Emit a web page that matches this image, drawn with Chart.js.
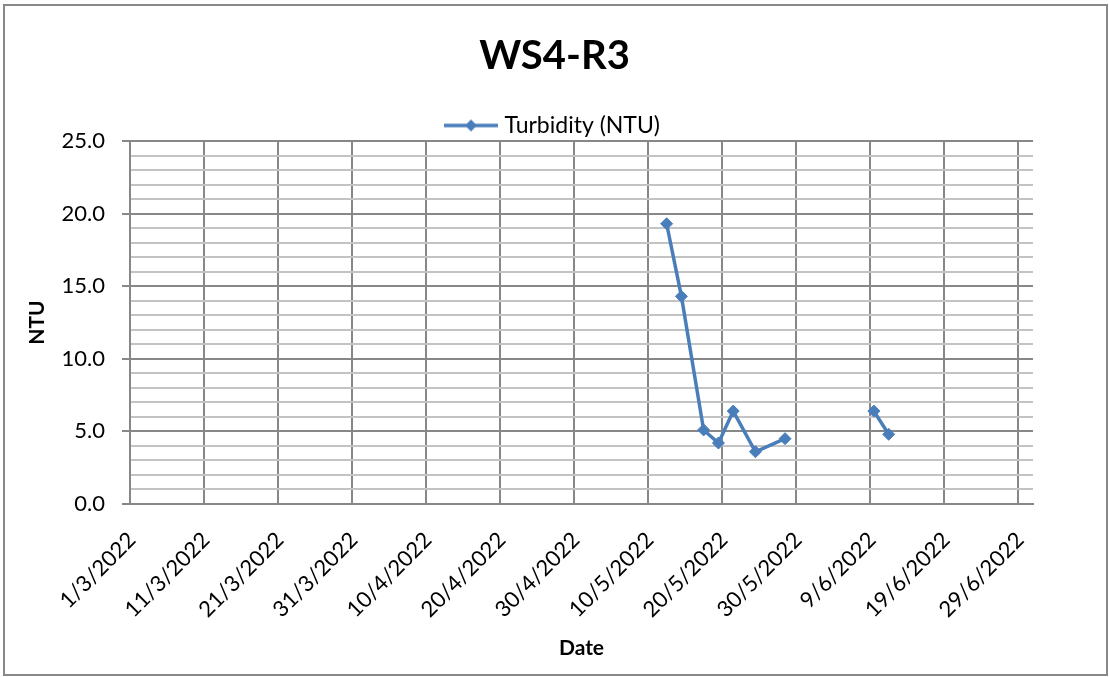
<!DOCTYPE html>
<html>
<head>
<meta charset="utf-8">
<title>WS4-R3</title>
<script src="https://cdn.jsdelivr.net/npm/chart.js@4.4.1/dist/chart.umd.min.js"></script>
<style>
  html, body { margin: 0; padding: 0; background: #ffffff; }
  #wrap { width: 1109px; height: 677px; }
  canvas { display: block; }
</style>
</head>
<body>
<div id="wrap"><canvas id="chart" width="1109" height="677"></canvas></div>
<script>
// ---- data ----
const chartTitle = 'WS4-R3';
const seriesName = 'Turbidity (NTU)';
const axisStart = '1/3/2022';
const axisEnd = '1/7/2022';
const sampleDates = ['12/5/2022', '14/5/2022', '17/5/2022', '19/5/2022', '21/5/2022',
                     '24/5/2022', '28/5/2022', '4/6/2022', '9/6/2022', '11/6/2022'];
const turbidity = [19.3, 14.3, 5.1, 4.2, 6.4, 3.6, 4.5, null, 6.4, 4.8];
const xTickLabels = ['1/3/2022', '11/3/2022', '21/3/2022', '31/3/2022', '10/4/2022',
                     '20/4/2022', '30/4/2022', '10/5/2022', '20/5/2022', '30/5/2022',
                     '9/6/2022', '19/6/2022', '29/6/2022'];
const yTickLabels = ['0.0', '5.0', '10.0', '15.0', '20.0', '25.0'];
const yMinorStep = 1;

// ---- helpers ----
function toUTC(s) {
  const [d, m, y] = s.split('/').map(Number);
  return Date.UTC(y, m - 1, d);
}
function dayIndex(s) {
  return Math.round((toUTC(s) - toUTC(axisStart)) / 86400000);
}

// each date owns a one-day slot on the axis; a point sits in the middle of its day
const points = sampleDates.map((d, i) => ({ x: dayIndex(d) + 0.5, y: turbidity[i] }));
const xTickValues = xTickLabels.map(dayIndex);
const yMajorValues = yTickLabels.map(parseFloat);
const yMax = yMajorValues[yMajorValues.length - 1];
const yTickValues = [];
for (let v = yMajorValues[0]; v <= yMax + 1e-9; v += yMinorStep) yTickValues.push(Math.round(v * 10) / 10);
const isMajor = v => yMajorValues.some(m => Math.abs(m - v) < 1e-9);

const LINE = '#4a7ebb';
const MAJOR = '#878787';
const MINOR = '#c3c3c3';
const FONT = 'Lato, "Open Sans", sans-serif';

// legend glyph: a line with a diamond marker
const glyph = document.createElement('canvas');
glyph.width = 54; glyph.height = 14;
(function () {
  const g = glyph.getContext('2d');
  g.strokeStyle = LINE; g.lineWidth = 3.5;
  g.beginPath(); g.moveTo(0, 7); g.lineTo(54, 7); g.stroke();
  g.fillStyle = LINE;
  g.beginPath(); g.moveTo(27, 1); g.lineTo(33, 7); g.lineTo(27, 13); g.lineTo(21, 7); g.closePath(); g.fill();
})();

// white background and outer frame
const framePlugin = {
  id: 'frame',
  beforeDraw(chart) {
    const c = chart.ctx;
    c.save();
    c.fillStyle = '#ffffff';
    c.fillRect(0, 0, chart.width, chart.height);
    c.strokeStyle = '#888888';
    c.lineWidth = 2;
    c.strokeRect(4, 5, 1103, 670);
    c.restore();
  }
};

Chart.defaults.font.family = FONT;
Chart.defaults.color = '#000000';

const chart = new Chart(document.getElementById('chart'), {
  type: 'line',
  data: {
    datasets: [{
      label: seriesName,
      data: points,
      borderColor: LINE,
      backgroundColor: LINE,
      borderWidth: 3.5,
      pointStyle: 'rectRot',
      pointRadius: 6,
      pointHoverRadius: 6,
      pointBackgroundColor: LINE,
      pointBorderColor: LINE,
      pointBorderWidth: 1,
      tension: 0,
      spanGaps: false,
      yAxisID: 'y'
    }]
  },
  options: {
    responsive: false,
    animation: false,
    devicePixelRatio: 1,
    layout: { padding: { top: 0, left: 0, right: 0, bottom: 16 } },
    plugins: {
      title: {
        display: true,
        text: chartTitle,
        font: { size: 40, weight: 'bold', family: FONT },
        color: '#000000',
        padding: { top: 32, bottom: 24 }
      },
      legend: {
        display: true,
        position: 'top',
        labels: {
          usePointStyle: true,
          pointStyle: glyph,
          pointStyleWidth: 44,
          padding: 10,
          font: { size: 23, family: FONT },
          color: '#000000'
        }
      },
      tooltip: { enabled: false }
    },
    scales: {
      x: {
        type: 'linear',
        min: 0,
        max: dayIndex(axisEnd),
        afterBuildTicks: axis => { axis.ticks = xTickValues.map(v => ({ value: v })); },
        afterFit: s => { s.height = 157; },
        ticks: {
          autoSkip: false,
          minRotation: 45,
          maxRotation: 45,
          padding: 23,
          labelOffset: 2,
          font: { size: 22, family: FONT },
          color: '#000000',
          callback: (v) => {
            const i = xTickValues.indexOf(v);
            return i >= 0 ? xTickLabels[i] : '';
          }
        },
        grid: { color: MAJOR, lineWidth: 2, drawTicks: false },
        border: { color: MAJOR, width: 2 },
        title: {
          display: true,
          text: 'Date',
          font: { size: 21, weight: 'bold', family: FONT },
          color: '#000000',
          padding: { top: 0, bottom: 0 }
        }
      },
      y: {
        type: 'linear',
        position: 'left',
        min: 0,
        max: yMax,
        afterBuildTicks: axis => { axis.ticks = yTickValues.map(v => ({ value: v })); },
        afterFit: s => { s.width = 130; },
        ticks: {
          autoSkip: false,
          padding: 17,
          font: { size: 22, family: FONT },
          color: '#000000',
          callback: (v) => {
            const i = yMajorValues.findIndex(m => Math.abs(m - v) < 1e-9);
            return i >= 0 ? yTickLabels[i] : '';
          }
        },
        grid: {
          lineWidth: 2,
          tickLength: 8,
          color: ctx => isMajor(ctx.tick.value) ? MAJOR : MINOR,
          tickColor: ctx => isMajor(ctx.tick.value) ? MAJOR : 'rgba(0,0,0,0)'
        },
        border: { color: MAJOR, width: 2 },
        title: {
          display: true,
          text: 'NTU',
          font: { size: 21, weight: 'bold', family: FONT },
          color: '#000000',
          padding: { top: 25, bottom: 0 }
        }
      },
      // empty right-hand gutter so the plot ends where the frame margin starts
      gutter: {
        type: 'linear',
        position: 'right',
        display: true,
        afterFit: s => { s.width = 76; },
        ticks: { display: false },
        grid: { display: false, drawTicks: false },
        border: { display: false },
        title: { display: false }
      }
    }
  },
  plugins: [framePlugin]
});

// keep the legend row tight against the plot top
const baseFit = chart.legend.fit.bind(chart.legend);
chart.legend.fit = function () { baseFit(); this.height -= 6; };
chart.update();
</script>
</body>
</html>
